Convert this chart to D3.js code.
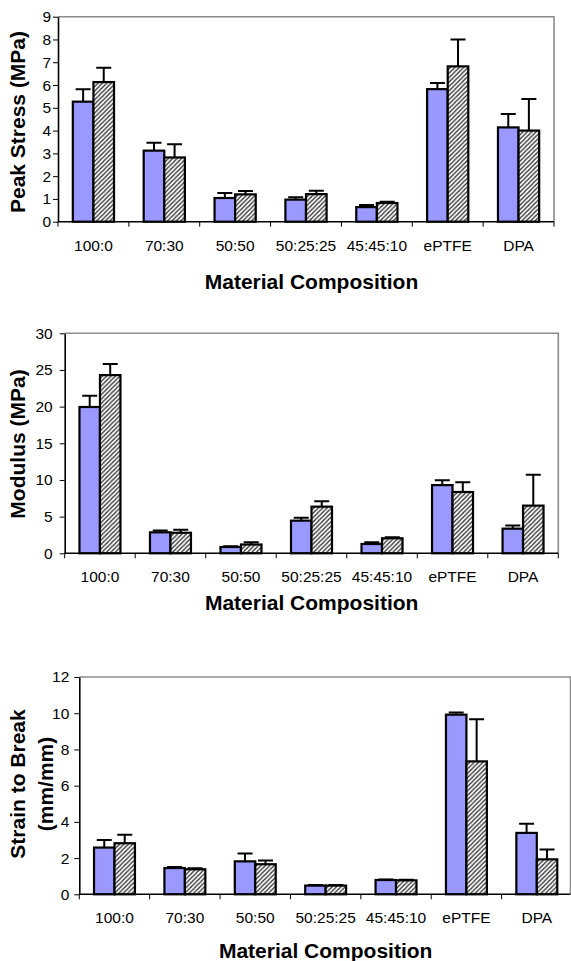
<!DOCTYPE html>
<html>
<head>
<meta charset="utf-8">
<script src="https://cdn.jsdelivr.net/npm/d3@7"></script>
<style>
  html, body { margin: 0; padding: 0; background: #fff; }
  svg { display: block; }
  text { font-family: Arial, "Liberation Sans", sans-serif; }
</style>
</head>
<body>
<svg id="chart" width="571" height="961"></svg>
<script>
// ---- Data ----
const categories = ["100:0", "70:30", "50:50", "50:25:25", "45:45:10", "ePTFE", "DPA"];
const seriesNames = ["solid", "hatched"];

// Peak Stress (MPa)
const stressSolid    = [5.27, 3.12, 1.04, 0.97, 0.64, 5.82, 4.14];
const stressSolidErr = [0.55, 0.35, 0.22, 0.10, 0.09, 0.27, 0.59];
const stressHatch    = [6.13, 2.82, 1.20, 1.21, 0.82, 6.82, 4.00];
const stressHatchErr = [0.63, 0.58, 0.15, 0.15, 0.06, 1.18, 1.39];
const stressTicks    = [0, 1, 2, 3, 4, 5, 6, 7, 8, 9];

// Modulus (MPa)
const modSolid    = [19.95, 2.86, 0.86, 4.45, 1.27, 9.30, 3.36];
const modSolidErr = [1.55, 0.24, 0.09, 0.40, 0.23, 0.65, 0.44];
const modHatch    = [24.30, 2.80, 1.20, 6.36, 2.05, 8.36, 6.50];
const modHatchErr = [1.50, 0.40, 0.30, 0.74, 0.15, 1.34, 4.20];
const modTicks    = [0, 5, 10, 15, 20, 25, 30];

// Strain to Break (mm/mm)
const strainSolid    = [2.58, 1.45, 1.82, 0.48, 0.79, 9.92, 3.39];
const strainSolidErr = [0.42, 0.06, 0.43, 0.03, 0.03, 0.12, 0.51];
const strainHatch    = [2.82, 1.38, 1.66, 0.48, 0.77, 7.34, 1.93];
const strainHatchErr = [0.47, 0.06, 0.20, 0.03, 0.04, 2.32, 0.54];
const strainTicks    = [0, 2, 4, 6, 8, 10, 12];

const xTitle = "Material Composition";

// ---- Drawing ----
const svg = d3.select("#chart");
const defs = svg.append("defs");
const pat = defs.append("pattern")
  .attr("id", "hatch")
  .attr("patternUnits", "userSpaceOnUse")
  .attr("width", 4.4).attr("height", 4.4);
pat.append("rect").attr("width", 4.4).attr("height", 4.4).attr("fill", "#fff");
pat.append("path")
  .attr("d", "M-1,1 L1,-1 M0,4.4 L4.4,0 M3.4,5.4 L5.4,3.4")
  .attr("stroke", "#333").attr("stroke-width", 1.4);

const TICK_FONT = 15.5;
const TITLE_FONT = 21;

function drawChart(cfg) {
  const g = svg.append("g");
  const x = d3.scaleBand().domain(categories).range([cfg.left, cfg.right]).paddingInner(0).paddingOuter(0);
  const xs = d3.scaleBand().domain(seriesNames).range([0, x.bandwidth()]).paddingInner(0).paddingOuter(0.72);
  const y = d3.scaleLinear().domain([0, d3.max(cfg.ticks)]).range([cfg.bottom, cfg.top]);

  // plot frame top/right (gray)
  g.append("path")
    .attr("d", `M${cfg.left},${cfg.top} H${cfg.frameRight} V${cfg.bottom}`)
    .attr("fill", "none").attr("stroke", cfg.frameColor || "#8c8c8c").attr("stroke-width", 1.6);

  const rows = categories.map((c, i) => ({
    cat: c,
    vals: [
      { s: "solid", v: cfg.solid[i], e: cfg.solidErr[i] },
      { s: "hatched", v: cfg.hatch[i], e: cfg.hatchErr[i] }
    ]
  }));

  const grp = g.selectAll("g.cat").data(rows).join("g")
    .attr("transform", d => `translate(${x(d.cat)},0)`);

  // error bars (upper only)
  grp.selectAll("path.err").data(d => d.vals).join("path")
    .attr("class", "err")
    .attr("d", d => {
      const cx = xs(d.s) + xs.bandwidth() / 2;
      const y1 = y(d.v), y2 = y(d.v + d.e);
      return `M${cx},${y1} V${y2} M${cx - 7.5},${y2} H${cx + 7.5}`;
    })
    .attr("fill", "none").attr("stroke", "#000").attr("stroke-width", 2);

  grp.selectAll("rect.bar").data(d => d.vals).join("rect")
    .attr("class", "bar")
    .attr("x", d => xs(d.s))
    .attr("y", d => y(d.v))
    .attr("width", xs.bandwidth())
    .attr("height", d => y(0) - y(d.v))
    .attr("fill", d => d.s === "solid" ? "#9999ff" : "url(#hatch)")
    .attr("stroke", "#000").attr("stroke-width", 2.2);

  // y axis
  const ya = g.append("g").attr("transform", `translate(${cfg.left},0)`)
    .call(d3.axisLeft(y).tickValues(cfg.ticks).tickSize(5).tickPadding(cfg.yPad).tickSizeOuter(0));
  ya.select(".domain").attr("stroke", "#000").attr("stroke-width", 1.6);
  ya.selectAll(".tick line").attr("stroke", "#000").attr("stroke-width", 1);
  ya.selectAll(".tick text").attr("font-size", TICK_FONT).attr("fill", "#000")
    .attr("font-family", "Arial, 'Liberation Sans', sans-serif");

  // x axis: ticks at category boundaries
  const xa = g.append("g").attr("transform", `translate(0,${cfg.bottom})`);
  xa.append("line").attr("x1", cfg.left).attr("x2", cfg.frameRight)
    .attr("y1", 0).attr("y2", 0).attr("stroke", "#000").attr("stroke-width", 1.6);
  const bounds = categories.map(c => x(c)).concat([x(categories[categories.length - 1]) + x.bandwidth()]);
  xa.selectAll("line.bt").data(bounds).join("line").attr("class", "bt")
    .attr("x1", d => d).attr("x2", d => d).attr("y1", 0).attr("y2", 5)
    .attr("stroke", "#000").attr("stroke-width", 1);
  xa.selectAll("text.cl").data(categories).join("text").attr("class", "cl")
    .attr("x", d => x(d) + x.bandwidth() / 2)
    .attr("y", cfg.catLabelDy)
    .attr("text-anchor", "middle")
    .attr("font-size", TICK_FONT).attr("fill", "#000")
    .text(d => d);

  // titles
  g.append("text")
    .attr("x", cfg.xTitleX).attr("y", cfg.xTitleY)
    .attr("text-anchor", "middle").attr("font-weight", "bold").attr("font-size", TITLE_FONT)
    .text(xTitle);

  cfg.yTitle.forEach((t, i) => {
    g.append("text")
      .attr("transform", `translate(${cfg.yTitleX[i]},${cfg.yTitleY}) rotate(-90)`)
      .attr("text-anchor", "middle").attr("dominant-baseline", "central")
      .attr("font-weight", "bold").attr("font-size", TITLE_FONT)
      .text(t);
  });
}

drawChart({
  left: 58, right: 554, frameRight: 554, top: 16.7, bottom: 221.7,
  ticks: stressTicks, solid: stressSolid, solidErr: stressSolidErr, hatch: stressHatch, hatchErr: stressHatchErr,
  yPad: 2, catLabelDy: 29.5,
  xTitleX: 311.5, xTitleY: 288.5,
  yTitle: ["Peak Stress (MPa)"], yTitleX: [17], yTitleY: 122
});

drawChart({
  left: 64.7, right: 558.3, frameRight: 558.3, top: 333.3, bottom: 553.3,
  ticks: modTicks, solid: modSolid, solidErr: modSolidErr, hatch: modHatch, hatchErr: modHatchErr,
  yPad: 7, catLabelDy: 28.7,
  xTitleX: 311.7, xTitleY: 610,
  yTitle: ["Modulus (MPa)"], yTitleX: [17], yTitleY: 444
});

drawChart({
  left: 79.3, right: 572, frameRight: 570.5, top: 677, bottom: 894.3,
  ticks: strainTicks, solid: strainSolid, solidErr: strainSolidErr, hatch: strainHatch, hatchErr: strainHatchErr,
  yPad: 5, catLabelDy: 29,
  xTitleX: 325.7, xTitleY: 958,
  yTitle: ["Strain to Break", "(mm/mm)"], yTitleX: [17, 45], yTitleY: 784
});
</script>
</body>
</html>
